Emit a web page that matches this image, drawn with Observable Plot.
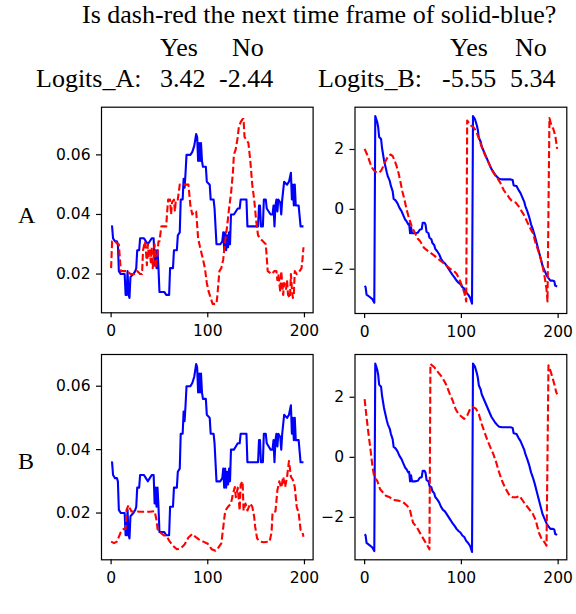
<!DOCTYPE html>
<html><head><meta charset="utf-8">
<script src="https://cdn.jsdelivr.net/npm/d3@7"></script>
<script src="https://cdn.jsdelivr.net/npm/@observablehq/plot@0.6"></script>
<style>
body{margin:0;background:#fff;}
#root{position:relative;width:576px;height:614px;overflow:hidden;background:#fff;}
.p{position:absolute;}
#txt{position:absolute;left:0;top:0;pointer-events:none;}
</style></head><body><div id="root"></div>
<script>
// ---- data ----
const xTicks = [0, 100, 200];
const ampTicks = [0.02, 0.04, 0.06];
const phaseTicks = [-2, 0, 2];
const rowLabels = ["A", "B"];
const answerLabels = ["Yes", "No"];
const logitsA = ["3.42", "-2.44"];
const logitsB = ["-5.55", "5.34"];

// solid-blue amplitude (same in A and B)
const blueAmpX = [0,1,2,4,6,7,8,10,14,15,16,17,18,19,20,23,25,26,27,29,30,34,36,38,40,42,44,45,46,47,48,49,50,55,57,60,61,64,65,68,69,71,72,74,75,76,77,78,82,84,86,88,89,90,91,92,93,94,95,98,99,102,103,106,107,108,109,113,115,116,117,118,119,120,121,122,123,124,127,129,131,133,134,135,140,141,152,153,154,155,157,158,160,161,163,165,167,168,169,170,171,172,173,175,176,177,179,182,184,186,187,188,189,190,191,194,196,199];
const blueAmpY = [0.036,0.036,0.032,0.031,0.031,0.030,0.021,0.020,0.020,0.013,0.013,0.021,0.013,0.012,0.019,0.020,0.021,0.022,0.028,0.028,0.032,0.032,0.031,0.030,0.031,0.032,0.032,0.023,0.028,0.022,0.028,0.022,0.014,0.014,0.013,0.013,0.022,0.022,0.028,0.028,0.033,0.034,0.045,0.045,0.052,0.049,0.054,0.060,0.060,0.061,0.063,0.067,0.066,0.058,0.064,0.058,0.064,0.058,0.056,0.056,0.051,0.050,0.045,0.045,0.042,0.036,0.030,0.030,0.031,0.034,0.028,0.034,0.028,0.033,0.029,0.034,0.030,0.040,0.040,0.041,0.042,0.042,0.045,0.045,0.045,0.036,0.036,0.043,0.043,0.036,0.036,0.045,0.045,0.042,0.041,0.040,0.040,0.043,0.036,0.043,0.045,0.041,0.045,0.044,0.040,0.045,0.051,0.050,0.051,0.054,0.045,0.050,0.043,0.050,0.043,0.043,0.036,0.036];

// dash-red amplitude, row A
const redAmpAX = [0,1,4,7,8,10,17,20,24,27,30,32,33,35,36,37,38,39,40,41,42,43,44,45,46,48,49,50,52,57,58,59,61,62,63,65,66,67,69,71,78,80,82,84,86,88,90,92,95,97,99,101,103,105,109,110,112,114,116,118,120,122,124,126,127,129,131,132,134,136,137,138,140,142,144,146,148,150,152,154,157,160,162,166,169,171,172,173,175,176,178,179,181,182,183,185,186,187,188,189,190,192,195,197,198,199];
const redAmpAY = [0.022,0.031,0.031,0.030,0.030,0.021,0.021,0.020,0.020,0.021,0.020,0.020,0.028,0.031,0.028,0.023,0.030,0.026,0.028,0.024,0.029,0.022,0.025,0.030,0.022,0.027,0.031,0.031,0.036,0.036,0.041,0.045,0.045,0.040,0.044,0.045,0.041,0.045,0.045,0.050,0.050,0.050,0.043,0.040,0.041,0.041,0.032,0.029,0.025,0.022,0.017,0.014,0.012,0.010,0.010,0.013,0.021,0.022,0.025,0.031,0.036,0.042,0.047,0.054,0.060,0.062,0.066,0.069,0.071,0.072,0.072,0.066,0.065,0.064,0.058,0.050,0.045,0.038,0.033,0.032,0.031,0.030,0.021,0.020,0.021,0.021,0.018,0.020,0.014,0.021,0.013,0.017,0.015,0.018,0.013,0.012,0.020,0.015,0.012,0.013,0.021,0.020,0.021,0.022,0.025,0.029];

// dash-red amplitude, row B
const redAmpBX = [0,3,6,8,10,13,15,16,18,21,25,30,40,45,47,48,50,52,55,57,60,64,68,72,76,80,84,88,92,96,100,104,108,111,114,116,118,121,124,126,128,129,131,133,134,136,137,139,141,144,146,148,149,151,154,158,164,166,167,170,172,174,176,178,180,182,184,186,188,190,192,194,196,198,199];
const redAmpBY = [0.0110,0.0105,0.0110,0.0125,0.0140,0.0150,0.0150,0.0210,0.0225,0.0205,0.0205,0.0204,0.0204,0.0206,0.0177,0.0150,0.0140,0.0136,0.0129,0.0130,0.0113,0.0097,0.0086,0.0089,0.0101,0.0123,0.0134,0.0123,0.0114,0.0109,0.0103,0.0086,0.0081,0.0091,0.0104,0.0155,0.0207,0.0220,0.0230,0.0260,0.0282,0.0250,0.0280,0.0208,0.0290,0.0300,0.0208,0.0230,0.0208,0.0230,0.0220,0.0188,0.0157,0.0120,0.0110,0.0108,0.0110,0.0140,0.0202,0.0205,0.0272,0.0300,0.0280,0.0314,0.0282,0.0314,0.0364,0.0314,0.0305,0.0282,0.0220,0.0200,0.0147,0.0138,0.0125];

// solid-blue phase (same in A and B)
const bluePhX = [0,1,2,5,8,10,11,13,14,15,17,18,19,20,21,23,24,26,27,29,30,32,34,36,38,40,42,43,45,46,47,48,49,52,55,57,59,60,62,63,64,66,67,69,70,72,73,75,77,79,81,83,85,87,89,91,93,95,97,99,101,103,105,107,109,111,112,114,116,117,118,120,121,123,125,127,129,131,133,135,137,139,142,147,151,153,154,157,159,161,163,165,166,168,170,172,174,176,178,180,182,184,186,188,190,192,194,196,197,199];
const bluePhY = [-2.56,-2.60,-2.85,-2.92,-3.00,-3.12,3.12,2.92,2.75,2.42,2.35,2.05,1.85,1.65,1.50,1.22,1.10,0.95,0.80,0.60,0.35,0.30,0.20,0.05,-0.05,-0.20,-0.35,-0.38,-0.50,-0.48,-0.80,-0.60,-0.80,-0.80,-0.78,-0.68,-0.66,-0.45,-0.45,-0.52,-0.75,-0.80,-0.95,-1.00,-1.12,-1.20,-1.32,-1.40,-1.50,-1.65,-1.75,-1.80,-1.90,-2.00,-2.10,-2.20,-2.28,-2.38,-2.45,-2.50,-2.60,-2.65,-2.78,-2.85,-2.95,-3.15,3.12,3.02,2.80,2.65,2.40,2.25,2.10,1.95,1.80,1.65,1.50,1.35,1.25,1.15,1.08,1.02,1.00,1.00,1.00,0.98,0.80,0.78,0.65,0.55,0.40,0.25,0.12,-0.05,-0.25,-0.50,-0.68,-0.90,-1.15,-1.40,-1.65,-1.90,-2.05,-2.20,-2.30,-2.38,-2.38,-2.40,-2.55,-2.58];

// dash-red phase, row A
const redPhAX = [0,3,6,8,10,13,15,17,19,21,23,25,27,29,31,33,35,37,39,41,43,45,47,49,51,53,55,57,59,61,63,65,68,71,74,77,80,83,86,89,92,95,97,99,101,103,105,106,108,110,112,114,116,118,120,122,124,126,128,130,132,134,136,138,140,142,144,146,148,150,152,154,156,158,160,162,164,166,168,170,172,174,176,178,180,182,184,186,188,189,191,193,195,197,199];
const redPhAY = [2.02,1.80,1.52,1.38,1.29,1.22,1.23,1.29,1.42,1.57,1.70,1.80,1.83,1.78,1.63,1.45,1.22,0.92,0.60,0.35,0.05,-0.20,-0.40,-0.60,-0.72,-0.85,-0.98,-1.05,-1.15,-1.27,-1.33,-1.38,-1.45,-1.52,-1.60,-1.68,-1.76,-1.83,-1.92,-2.00,-2.05,-2.15,-2.28,-2.42,-2.60,-2.78,-3.08,2.97,2.88,2.80,2.76,2.68,2.55,2.38,2.19,2.00,1.85,1.70,1.57,1.42,1.29,1.18,1.10,1.00,0.90,0.76,0.63,0.54,0.46,0.36,0.29,0.25,0.23,0.15,0.07,-0.05,-0.15,-0.28,-0.42,-0.55,-0.68,-0.80,-1.05,-1.25,-1.44,-1.65,-1.90,-2.25,-2.67,-3.08,3.05,2.80,2.69,2.47,2.02];

// dash-red phase, row B
const redPhBX = [0,2,4,6,8,10,13,16,19,22,26,30,35,40,44,47,50,54,58,62,65,67,68,72,76,80,84,88,91,94,97,100,103,106,109,112,115,118,121,124,127,130,133,136,139,142,145,148,150,153,157,160,163,166,170,174,177,180,183,186,188,190,192,194,196,198,199];
const redPhBY = [1.94,1.33,0.78,0.28,-0.28,-0.67,-0.78,-1.06,-1.17,-1.28,-1.33,-1.42,-1.44,-1.50,-1.61,-1.78,-2.17,-2.33,-2.56,-2.78,-2.94,-3.06,3.11,3.00,2.83,2.67,2.44,2.11,1.89,1.61,1.44,1.36,1.28,1.39,1.61,1.67,1.62,1.44,1.11,0.83,0.56,0.33,0.11,-0.17,-0.50,-0.78,-1.00,-1.17,-1.28,-1.33,-1.33,-1.28,-1.42,-1.56,-1.72,-1.89,-2.11,-2.50,-2.72,-2.83,-2.94,3.06,2.89,2.67,2.44,2.17,2.10];

// ---- drawing ----
const root = document.getElementById("root");
const pts = (xs, ys) => xs.map((x, i) => ({x, y: ys[i]}));

function panel(o) {
  const svg = Plot.plot({
    width: o.width, height: o.height,
    marginLeft: o.mL, marginRight: o.mR, marginTop: o.mT, marginBottom: o.mB,
    style: {fontFamily: "'DejaVu Sans', sans-serif", fontSize: "15.5px", background: "transparent", color: "#000", overflow: "visible"},
    x: {domain: [-9.95, 208.95], ticks: xTicks, tickSize: 5, tickPadding: 7, label: null, tickFormat: d3.format("d")},
    y: {domain: o.yDomain, ticks: o.yTicks, tickSize: 5, tickPadding: 6, label: null, tickFormat: o.fmt},
    marks: [
      Plot.line(pts(o.bx, o.by), {x: "x", y: "y", stroke: "#0000ff", strokeWidth: 2.1, strokeLinejoin: "round", strokeLinecap: "butt"}),
      Plot.line(pts(o.rx, o.ry), {x: "x", y: "y", stroke: "#ff0000", strokeWidth: 2.1, strokeDasharray: "7,3", strokeLinejoin: "round", strokeLinecap: "butt"}),
      Plot.frame({stroke: "#000", strokeWidth: 1.2})
    ]
  });
  svg.classList.add("p");
  svg.style.left = o.left + "px";
  svg.style.top = o.top + "px";
  svg.querySelectorAll("[aria-label$='tick'] path, [aria-label$='tick'] line").forEach(e => e.setAttribute("stroke-width", 1.2));
  root.appendChild(svg);
}

const ampFmt = d3.format(".2f");
const phFmt = d3.format("d");

panel({left: 0, top: 95, width: 320, height: 250, mL: 101, mR: 7.4, mT: 11.7, mB: 32.7,
  yDomain: [0.0070, 0.0760], yTicks: ampTicks, fmt: ampFmt, bx: blueAmpX, by: blueAmpY, rx: redAmpAX, ry: redAmpAY});
panel({left: 318, top: 95, width: 258, height: 250, mL: 36.5, mR: 9.7, mT: 11.7, mB: 32,
  yDomain: [-3.48, 3.413], yTicks: phaseTicks, fmt: phFmt, bx: bluePhX, by: bluePhY, rx: redPhAX, ry: redPhAY});
panel({left: 0, top: 345, width: 320, height: 250, mL: 101, mR: 7.4, mT: 9, mB: 35.7,
  yDomain: [0.00525, 0.0700], yTicks: ampTicks, fmt: ampFmt, bx: blueAmpX, by: blueAmpY, rx: redAmpBX, ry: redAmpBY});
panel({left: 318, top: 345, width: 258, height: 250, mL: 36.5, mR: 9.7, mT: 9, mB: 35.7,
  yDomain: [-3.41, 3.423], yTicks: phaseTicks, fmt: phFmt, bx: bluePhX, by: bluePhY, rx: redPhBX, ry: redPhBY});

// header + row labels
const t = d3.select(root).append("svg").attr("id", "txt").attr("width", 576).attr("height", 614)
  .style("font-family", "'Liberation Serif', 'DejaVu Serif', serif").style("font-size", "26px").attr("fill", "#000");
t.append("text").attr("x", 82).attr("y", 23).text("Is dash-red the next time frame of solid-blue?");
[[160, 232], [450, 515]].forEach(xs => xs.forEach((x, i) => t.append("text").attr("x", x).attr("y", 56).text(answerLabels[i])));
t.append("text").attr("x", 36).attr("y", 87).text("Logits_A:");
t.append("text").attr("x", 160).attr("y", 87).text(logitsA[0]);
t.append("text").attr("x", 219).attr("y", 87).text(logitsA[1]);
t.append("text").attr("x", 318).attr("y", 87).text("Logits_B:");
t.append("text").attr("x", 442).attr("y", 87).text(logitsB[0]);
t.append("text").attr("x", 510).attr("y", 87).text(logitsB[1]);
t.append("text").attr("x", 18).attr("y", 223).attr("font-size", 24).text(rowLabels[0]);
t.append("text").attr("x", 18).attr("y", 469).attr("font-size", 24).text(rowLabels[1]);
</script></body></html>
